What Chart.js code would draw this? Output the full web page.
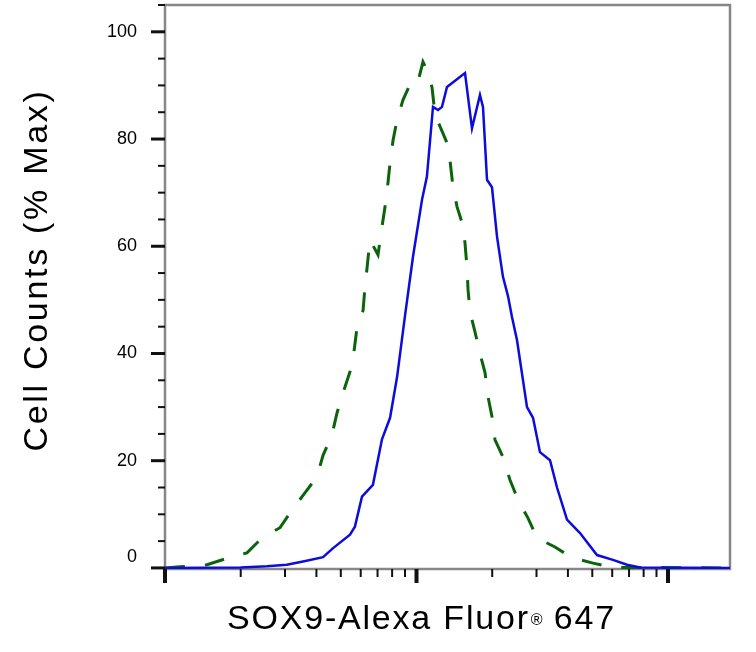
<!DOCTYPE html>
<html>
<head>
<meta charset="utf-8">
<title>SOX9 flow histogram</title>
<script src="https://cdn.jsdelivr.net/npm/chart.js@4.4.1/dist/chart.umd.min.js"></script>
<style>
    html, body { margin: 0; padding: 0; background: #fff; }
    #wrap { position: relative; width: 756px; height: 652px; }
</style>
</head>
<body>
<div id="wrap"><canvas id="histo"></canvas></div>
<script>
// SOX9 stained cells (solid blue)
const sox9X = [1, 2, 2.54, 3.05, 3.54, 4.25, 4.66, 5.44, 5.69, 6.07, 6.71, 7.29, 7.85, 8.37, 9.0, 9.68,
    10.52, 11.0, 11.63, 12.18, 12.63, 13.22, 15.59, 16.62, 17.88, 18.38, 19.07, 19.96, 20.9, 22.07, 23.11,
    23.97, 25.09, 26.51, 27.5, 29.06, 30.97, 33.95, 36.2, 39.66, 44.68, 52.2, 60.4, 68.7, 77.4, 176.4];
const sox9Y = [0, 0.1, 0.3, 0.6, 1.2, 2.0, 3.7, 6.2, 7.7, 13.3, 15.5, 24, 28, 35.6, 47, 58,
    68.7, 73, 86, 85.4, 86, 89.7, 92.3, 82, 88.2, 86, 72.4, 71, 61.8, 54.3, 50.7,
    46.8, 42.5, 35, 30, 28, 21.6, 20.1, 15, 9, 6.5, 2.4, 1.5, 0.6, 0.1, 0];

// isotype control (dashed green)
const ctrlX = [1, 1.147, 1.469, 1.764, 2.118, 2.43, 2.866, 3.2, 3.6, 4.02, 4.25, 4.61, 4.83, 5.1, 5.44,
    5.64, 5.8, 6.13, 6.24, 6.36, 6.53, 7.03, 7.29, 7.5, 7.7, 7.85, 8.07, 8.37, 8.84, 9.6, 10.14, 10.61,
    11.0, 11.53, 11.85, 12.18, 13.22, 13.59, 13.97, 14.49, 15.17, 15.59, 15.88, 16.03, 16.32, 17.09,
    17.88, 18.73, 19.24, 19.96, 20.52, 22.07, 23.54, 25.32, 27.76, 30.14, 35.53, 41.52, 50.33, 59.9, 176.4];
const ctrlY = [0, 0.2, 0.6, 1.8, 2.8, 5.6, 7.5, 10.8, 14, 17, 21, 24.8, 28.9, 32.6, 36.6,
    40.3, 44.8, 48, 52.4, 56, 61.2, 58.4, 63.6, 67.4, 71.8, 75.6, 79.8, 83.6, 87.3, 91, 90.7, 94.4,
    92.9, 89.6, 84.5, 83.2, 79.3, 76, 71, 67.4, 64.4, 60.6, 56, 51.9, 47.8, 44,
    40, 36.4, 32, 28.2, 23.9, 20.7, 16.4, 12.7, 9.3, 5.6, 3.9, 1.9, 0.9, 0.1, 0];

// tick marks
const yMajorTicks = [0, 20, 40, 60, 80, 100];
const yMinorTicks = [5, 10, 15, 25, 30, 35, 45, 50, 55, 65, 70, 75, 85, 90, 95, 105];
const xMajorTicks = [1, 10, 100];
const xMinorTicks = [2, 3, 4, 5, 6, 7, 8, 9, 20, 30, 40, 50, 60, 70, 80, 90];

const yTitle = 'Cell Counts (% Max)';
const xTitle = 'SOX9-Alexa Fluor';
const xTitleMark = '\u00AE';
const xTitleEnd = ' 647';

const FONT = '"Liberation Sans", Arial, Helvetica, sans-serif';

// frame + tick marks, drawn under the lines
const axisFrame = {
    id: 'axisFrame',
    beforeDatasetsDraw(chart) {
        const {ctx, chartArea: a, scales: {x, y}} = chart;
        ctx.save();
        ctx.strokeStyle = '#878787';
        ctx.lineWidth = 2.5;
        ctx.strokeRect(a.left, a.top, a.right - a.left, a.bottom - a.top);

        ctx.strokeStyle = '#111';
        const mark = (x1, y1, x2, y2, w) => {
            ctx.lineWidth = w;
            ctx.beginPath();
            ctx.moveTo(x1, y1);
            ctx.lineTo(x2, y2);
            ctx.stroke();
        };
        xMajorTicks.forEach(v => {
            const p = x.getPixelForValue(v);
            mark(p, a.bottom, p, a.bottom + 14, 4);
        });
        xMinorTicks.forEach(v => {
            const p = x.getPixelForValue(v);
            mark(p, a.bottom, p, a.bottom + 8, 2);
        });
        yMajorTicks.forEach(v => {
            const p = y.getPixelForValue(v);
            mark(a.left - 14, p, a.left, p, 3);
        });
        yMinorTicks.forEach(v => {
            const p = y.getPixelForValue(v);
            mark(a.left - 7, p, a.left, p, 2);
        });
        ctx.restore();
    }
};

// axis titles (x title has a small raised ®)
const axisTitles = {
    id: 'axisTitles',
    afterDraw(chart) {
        const ctx = chart.ctx;
        ctx.save();
        ctx.fillStyle = '#000';
        ctx.font = '34px ' + FONT;
        ctx.letterSpacing = '2.7px';
        ctx.textAlign = 'center';
        ctx.textBaseline = 'alphabetic';
        ctx.translate(47, 270);
        ctx.rotate(-Math.PI / 2);
        ctx.fillText(yTitle, 0, 0);
        ctx.restore();

        ctx.save();
        ctx.fillStyle = '#000';
        ctx.textAlign = 'left';
        ctx.textBaseline = 'alphabetic';
        let px = 227;
        ctx.font = '34px ' + FONT;
        ctx.letterSpacing = '1.8px';
        ctx.fillText(xTitle, px, 629);
        px += ctx.measureText(xTitle).width + 1;
        ctx.font = '16px ' + FONT;
        ctx.letterSpacing = '0px';
        ctx.fillText(xTitleMark, px, 625);
        px += ctx.measureText(xTitleMark).width;
        ctx.font = '34px ' + FONT;
        ctx.letterSpacing = '1.8px';
        ctx.fillText(xTitleEnd, px, 629);
        ctx.restore();
    }
};

const histoChart = new Chart(document.getElementById('histo').getContext('2d'), {
    type: 'line',
    data: {
        datasets: [{
            label: 'SOX9',
            data: sox9X.map((v, i) => ({x: v, y: sox9Y[i]})),
            borderColor: '#0c0cdc',
            borderWidth: 2.5,
            fill: false
        }, {
            label: 'Control',
            data: ctrlX.map((v, i) => ({x: v, y: ctrlY[i]})),
            borderColor: '#0b640b',
            borderWidth: 3,
            borderDash: [20, 20],
            fill: false
        }]
    },
    options: {
        responsive: true,
        maintainAspectRatio: false,
        animation: false,
        layout: {
            padding: {top: 5, right: 26, bottom: 0, left: 0}
        },
        elements: {
            point: {radius: 0, hoverRadius: 0},
            line: {tension: 0}
        },
        plugins: {
            legend: {display: false},
            tooltip: {enabled: false}
        },
        scales: {
            x: {
                type: 'logarithmic',
                min: 1,
                max: 176.4,
                grid: {display: false, drawTicks: false},
                border: {display: false},
                ticks: {display: false},
                afterFit: s => {
                    s.height = 83;
                    s.paddingLeft = 0;
                    s.paddingRight = 0;
                }
            },
            y: {
                type: 'linear',
                min: -0.2,
                max: 105,
                grid: {display: false, drawTicks: false},
                border: {display: false},
                afterBuildTicks: s => {
                    s.ticks = yMajorTicks.map(v => ({value: v}));
                },
                ticks: {
                    padding: 28,
                    color: '#000',
                    font: {family: FONT, size: 18},
                    // the 0 label sits a little above its tick
                    callback: v => v === 0 ? ['0', ''] : String(v)
                },
                afterFit: s => {
                    s.width = 165;
                    s.paddingTop = 0;
                    s.paddingBottom = 0;
                }
            }
        }
    },
    plugins: [axisFrame, axisTitles]
});
</script>
</body>
</html>
